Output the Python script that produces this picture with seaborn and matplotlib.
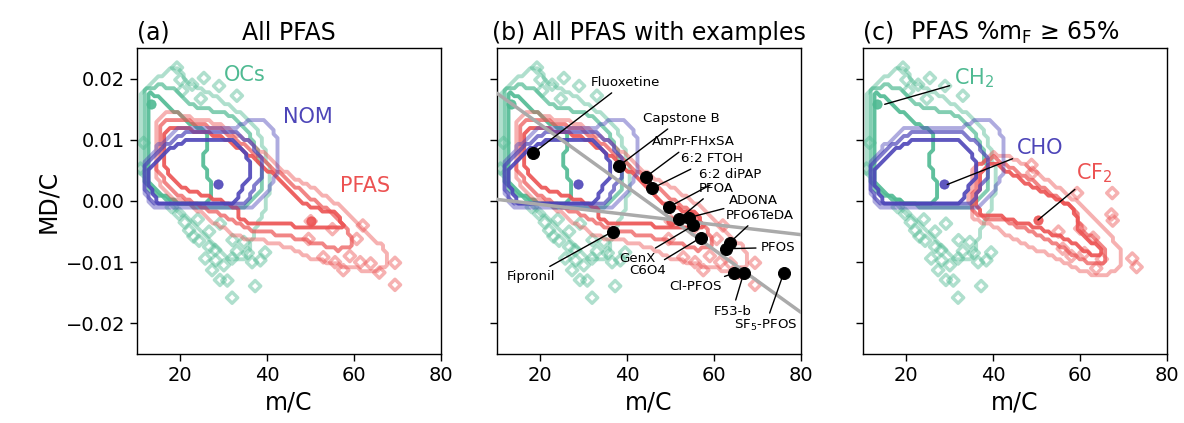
import numpy as np
import matplotlib
matplotlib.use("Agg")
import matplotlib.pyplot as plt
from matplotlib.path import Path
import seaborn as sns

sns.set_style("ticks")
plt.rcParams['font.family'] = ['DejaVu Sans']
for k in ["text.color", "axes.labelcolor", "xtick.color", "ytick.color", "axes.edgecolor"]:
    plt.rcParams[k] = "black"

# ---------------- colours ----------------
C_OC = "#4fba92"
C_NOM = "#4d45b8"
C_PF = "#ec5252"

# ---------------- contour outlines (m/C, MD/C) ----------------
oc_outer = [(11.2, 0.004), (11.2, 0.0175), (14, 0.0195), (17, 0.0215), (19.5, 0.0215), (22, 0.0192),
            (26, 0.0178), (31, 0.0158), (35, 0.0138), (38, 0.0112), (40, 0.007), (40.5, 0.002),
            (39, -0.002), (36.5, -0.006), (35, -0.0092), (31, -0.0095), (27, -0.0062), (22, -0.0032),
            (17, 0.000), (13, 0.002)]
oc_mid = [(12, 0.003), (12, 0.0182), (15, 0.019), (18, 0.0185), (22, 0.0158), (26, 0.0150), (31, 0.0142),
          (35, 0.0118), (38, 0.008), (39, 0.002), (35, -0.001), (24, -0.001), (17, 0.0003), (13, 0.0018)]
oc_inner = [(12.6, 0.0035), (12.6, 0.0178), (15, 0.0172), (18, 0.0150), (22, 0.0128), (26, 0.0112),
            (25.5, 0.006), (27, 0.003), (26.5, -0.0003), (19, -0.0003), (14.5, 0.0018)]

nom_outer = [(11.5, 0.0012), (11.5, 0.0062), (15, 0.0092), (20, 0.0120), (33, 0.0122), (35, 0.0130),
             (40, 0.0130), (42, 0.0105), (42.3, 0.0045), (40, 0.0015), (37, -0.0010), (14, -0.0010)]
nom_mid = [(12.2, 0.0015), (12.2, 0.0058), (15, 0.0082), (21, 0.0113), (33, 0.0113), (36.5, 0.0092),
           (38.5, 0.007), (38.5, 0.004), (35, -0.0007), (14, -0.0007)]
nom_inner = [(13, 0.0020), (13, 0.0055), (14.6, 0.0068), (18, 0.0086), (22, 0.0102), (31, 0.0102),
             (33, 0.0092), (35.5, 0.0078), (35.8, 0.0040), (32.5, -0.0003), (15, -0.0003)]

pf_outer = [(14, 0.0045), (14.5, 0.0130), (17, 0.0148), (22, 0.0136), (28, 0.0128), (34, 0.0105),
            (40, 0.0075), (45, 0.0042), (52, 0.0015), (56, -0.0005), (60, -0.0030), (64, -0.0060),
            (67, -0.0075), (67.5, -0.0110), (63, -0.0115), (57, -0.0105), (50, -0.0092), (45, -0.0076),
            (40, -0.0066), (33, -0.0058), (28, -0.0036), (22, -0.0006), (17, 0.0010)]
pf_mid = [(14.8, 0.0050), (15.2, 0.0124), (18, 0.0136), (24, 0.0126), (30, 0.0115), (36, 0.0085),
          (42, 0.0050), (48, 0.0015), (54, -0.0015), (58, -0.0040), (60, -0.0075), (56, -0.0080),
          (50, -0.0066), (44, -0.0056), (36, -0.0046), (30, -0.0026), (24, -0.0005), (18, 0.0015)]
pf_inner = [(15.8, 0.0060), (16.2, 0.0114), (19, 0.0120), (24, 0.0114), (30, 0.0104), (36, 0.0074),
            (42, 0.0040), (46, 0.0010), (50, -0.0010), (56, -0.0020), (58, -0.0046), (52, -0.0042),
            (40, -0.0038), (33, -0.0031), (33, -0.0010), (27, 0.0005), (20, 0.0022)]

pf65_outer = [(34.5, 0.0005), (35.5, 0.0052), (40, 0.0078), (46, 0.0066), (52, 0.0036), (58, 0.0006),
              (62, -0.0020), (66, -0.0048), (69.5, -0.0080), (69, -0.0110), (64, -0.0125), (58, -0.0106),
              (52, -0.0086), (46, -0.0066), (40, -0.0042), (35, -0.0026)]
pf65_mid = [(35.2, -0.0003), (36.5, 0.0058), (40, 0.0071), (46, 0.0046), (54, 0.0009), (59, -0.0015),
            (60.5, -0.0048), (66, -0.0078), (66, -0.0104), (62, -0.0104), (56, -0.0076), (49, -0.0051),
            (42, -0.0031), (36, -0.0025)]
pf65_inner = [(36, -0.0005), (37.2, 0.0050), (40, 0.0064), (46, 0.0036), (54, 0.0004), (58.5, -0.0012),
              (60, -0.0054), (64.5, -0.0077), (64.5, -0.0089), (62.5, -0.0089), (58, -0.0066), (50, -0.0044),
              (43, -0.0028), (37, -0.0021)]

# density peaks (m/C, MD/C)
oc_peak = (13.2, 0.0158)
nom_peak = (28.7, 0.0027)
pf_peak = (50.0, -0.0033)
pf65_peak = (50.3, -0.0031)

# ---------------- scattered outliers ----------------
oc_pts_m = [19.2, 20.0, 22.7, 25.4, 28.9, 33.0, 24.7, 20.4, 10.8, 11.5,
            31.9, 37.2, 29.1, 30.8, 27.3, 25.7, 28.1, 31.9, 36.5, 38.4, 39.5, 33.0, 34.6,
            26.6, 24.3, 22.0, 19.7, 26.6, 29.1, 32.0, 23.0, 21.0, 18.0, 35.5, 30.0, 28.0, 24.0]
oc_pts_md = [0.0218, 0.0198, 0.0190, 0.0201, 0.0188, 0.0172, 0.0167, 0.0180, 0.0053, 0.0095,
             -0.0158, -0.0139, -0.0129, -0.0130, -0.0113, -0.0094, -0.0097, -0.0094, -0.0100, -0.0097, -0.0084, -0.0082, -0.0067,
             -0.0075, -0.0065, -0.0048, -0.0021, -0.0050, -0.0037, -0.0064, -0.0058, -0.0035, -0.0010, -0.0085, -0.0105, -0.0080, -0.0030]
pf_pts_m = [69.4, 69.4, 62.0, 60.6, 52.9, 55.6, 57.5, 61.4, 63.8, 65.8, 49.5, 55.0, 50.0, 59.0]
pf_pts_md = [-0.0137, -0.0101, -0.0040, -0.0062, -0.0092, -0.0100, -0.0113, -0.0100, -0.0102, -0.0117,
             -0.0062, -0.0046, -0.0033, -0.0090]
pf65_pts_m = [48.8, 49.0, 59.3, 67.4, 67.2, 67.5, 72.0, 73.0, 63.7, 61.0, 58.0, 65.0, 55.0, 60.0, 63.0, 56.0]
pf65_pts_md = [0.0059, 0.0046, 0.0013, 0.0013, -0.0022, -0.0032, -0.0094, -0.0108, -0.0110, -0.0085,
               -0.0090, -0.0095, -0.0050, -0.0045, -0.0060, -0.0078]

# ---------------- example compounds (panel b) ----------------
ex_names = ["Fluoxetine", "Capstone B", "AmPr-FHxSA", "6:2 FTOH", "6:2 diPAP", "PFOA", "ADONA",
            "GenX", "C6O4", "PFO6TeDA", "PFOS", "Fipronil", "Cl-PFOS", "F53-b", r"SF$_5$-PFOS"]
ex_m = [18.3, 38.2, 44.2, 45.8, 49.5, 52.0, 54.3, 55.2, 56.9, 63.6, 62.7, 36.6, 64.5, 66.8, 76.0]
ex_md = [0.0078, 0.0058, 0.0039, 0.0021, -0.0010, -0.0029, -0.0027, -0.0040, -0.0060, -0.0068,
         -0.0078, -0.0050, -0.0118, -0.0118, -0.0118]
lab_m = [31.6, 43.7, 45.6, 52.3, 56.4, 56.4, 63.3, 46.6, 48.8, 62.6, 70.7, 23.4, 55.7, 64.2, 71.8]
lab_md = [0.0194, 0.0135, 0.0097, 0.0069, 0.0043, 0.0021, 0.0000, -0.0094, -0.0113, -0.0023,
          -0.0076, -0.0124, -0.0140, -0.0180, -0.0203]
lab_ha = ["left", "left", "left", "left", "left", "left", "left", "right", "right", "left",
          "left", "right", "center", "center", "center"]

# reference lines (panel b)
ref_x = [10, 80]
ref1_y = [0.0176, -0.0182]
ref2_y = [0.00026, -0.0055]

# ---------------- helpers ----------------
gx = np.arange(5.0, 85.0, 0.9)
gy = np.arange(-0.03, 0.03, 0.00065)
GX, GY = np.meshgrid(gx, gy)
pts = np.column_stack([GX.ravel(), GY.ravel()])


def draw_region(ax, poly, color, alpha, lw=2.8):
    mask = Path(poly).contains_points(pts).reshape(GX.shape).astype(float)
    ax.contour(GX, GY, mask, levels=[0.5], colors=[color], linewidths=lw, alpha=alpha)


def draw_class(ax, polys, peak, color, pm, pmd):
    sns.scatterplot(x=pm, y=pmd, ax=ax, marker="D", s=32, facecolor="none",
                    edgecolor=color, linewidth=2.5, alpha=0.45, zorder=1)
    for poly, a in zip(polys, [0.45, 0.7, 0.9]):
        draw_region(ax, poly, color, a)
    sns.scatterplot(x=[peak[0]], y=[peak[1]], ax=ax, marker="o", s=45, color=color,
                    edgecolor=color, alpha=0.9, zorder=3)


fig = plt.figure(figsize=(11.84, 4.23), dpi=100)
W, H = 1184, 423
lefts = [137, 497, 863]
axes = [fig.add_axes([l / W, 1 - 354 / H, 304 / W, 306 / H]) for l in lefts]

for i, ax in enumerate(axes):
    draw_class(ax, [oc_outer, oc_mid, oc_inner], oc_peak, C_OC, oc_pts_m, oc_pts_md)
    if i < 2:
        draw_class(ax, [pf_outer, pf_mid, pf_inner], pf_peak, C_PF, pf_pts_m, pf_pts_md)
    else:
        draw_class(ax, [pf65_outer, pf65_mid, pf65_inner], pf65_peak, C_PF, pf65_pts_m, pf65_pts_md)
    draw_class(ax, [nom_outer, nom_mid, nom_inner], nom_peak, C_NOM, [], [])
    ax.set_xlim(10, 80)
    ax.set_ylim(-0.025, 0.025)
    ax.set_xticks([20, 40, 60, 80])
    ax.set_yticks([-0.02, -0.01, 0.0, 0.01, 0.02])
    ax.tick_params(labelsize=14, length=5, width=1)
    ax.set_xlabel("m/C", fontsize=17)
    for s in ax.spines.values():
        s.set_linewidth(1.0)
    if i == 0:
        ax.set_ylabel("MD/C", fontsize=17)
    else:
        ax.set_yticklabels([])
        ax.set_ylabel("")

# panel a
axA, axB, axC = axes
axA.set_title("(a)", loc="left", fontsize=17)
axA.set_title("All PFAS", fontsize=17)
axA.text(34.9, 0.0206, "OCs", color=C_OC, fontsize=15, ha="center", va="center")
axA.text(49.4, 0.0137, "NOM", color=C_NOM, fontsize=15, ha="center", va="center")
axA.text(62.5, 0.0024, "PFAS", color=C_PF, fontsize=15, ha="center", va="center")

# panel b
axB.set_title("(b) All PFAS with examples", fontsize=17)
sns.lineplot(x=ref_x, y=ref1_y, ax=axB, color="#aaaaaa", lw=2.5, zorder=4)
sns.lineplot(x=ref_x, y=ref2_y, ax=axB, color="#aaaaaa", lw=2.5, zorder=4)
for n, xm, ym, tm, tmd, ha in zip(ex_names, ex_m, ex_md, lab_m, lab_md, lab_ha):
    axB.annotate(n, xy=(xm, ym), xytext=(tm, tmd), ha=ha, va="center", fontsize=9.6, zorder=6,
                 arrowprops=dict(arrowstyle="-", color="k", lw=1, shrinkA=1, shrinkB=0))
sns.scatterplot(x=ex_m, y=ex_md, ax=axB, color="k", s=75, edgecolor="k", zorder=7)

# panel c
axC.set_title("(c)", loc="left", fontsize=17)
axC.set_title(r"PFAS %m$_\mathrm{F}$ ≥ 65%", fontsize=17)
axC.annotate(r"CH$_2$", xy=(15.0, 0.0158), xytext=(31.0, 0.0200), color=C_OC, fontsize=15,
             ha="left", va="center", arrowprops=dict(arrowstyle="-", color="k", lw=1, shrinkA=1, shrinkB=0))
axC.annotate("CHO", xy=(29.4, 0.0027), xytext=(45.5, 0.0087), color=C_NOM, fontsize=15,
             ha="left", va="center", arrowprops=dict(arrowstyle="-", color="k", lw=1, shrinkA=1, shrinkB=0))
axC.annotate(r"CF$_2$", xy=(50.3, -0.0031), xytext=(59.0, 0.0045), color=C_PF, fontsize=15,
             ha="left", va="center", arrowprops=dict(arrowstyle="-", color="k", lw=1, shrinkA=1, shrinkB=0))

fig.savefig("out.png", dpi=100)
